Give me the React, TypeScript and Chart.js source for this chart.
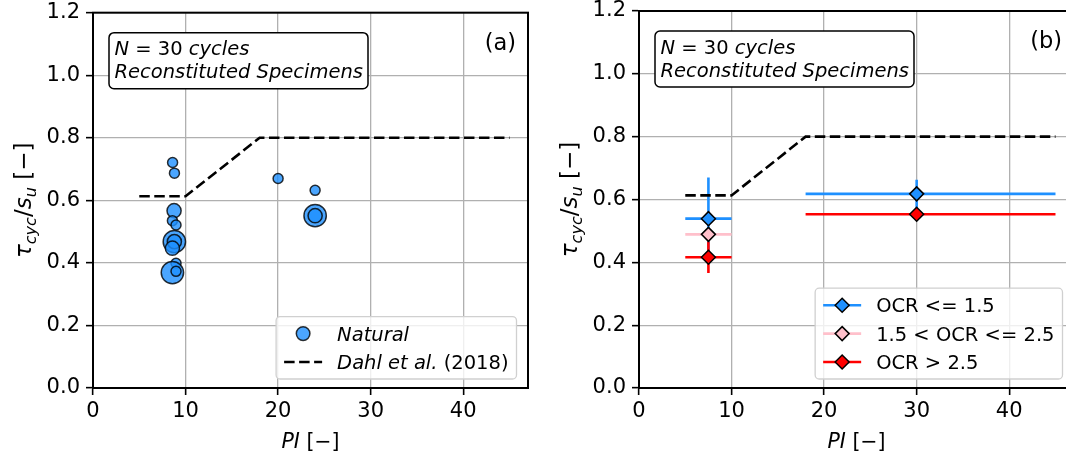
import React, { useEffect, useRef } from "react";
import { Chart, registerables } from "chart.js";

Chart.register(...registerables);

const FAMILY = "'DejaVu Sans', sans-serif";
const FS = 19.5; // legend / text box
const FS_TICK = 21;
const FS_XT = 20.5;
const FS_YT = 23;
const FS_PANEL = 22.5;

// ---------- Panel (a): natural specimens ----------
const naturalPI = [8.6, 8.8, 20.0, 24.0, 24.0, 24.0, 8.76, 8.58, 8.97, 8.79, 8.79, 8.58, 8.97, 8.58, 8.97];
const naturalRatio = [0.721, 0.687, 0.67, 0.632, 0.551, 0.551, 0.567, 0.535, 0.521, 0.468, 0.468, 0.447, 0.399, 0.369, 0.373];
const naturalTests = [1, 1, 1, 1, 5, 2, 2, 1, 1, 5, 2, 2, 1, 5, 1];

// Dahl et al. (2018) envelope
const dahlPI = [5, 10, 18, 45];
const dahlRatio = [0.613, 0.613, 0.8, 0.8];

// ---------- Panel (b): OCR groups ----------
const ocrLabels = ["OCR <= 1.5", "1.5 < OCR <= 2.5", "OCR > 2.5"];
const ocrPI = [[7.5, 30], [7.5], [7.5, 30]];
const ocrPImin = [[5, 18], [5], [5, 18]];
const ocrPImax = [[10, 45], [10], [10, 45]];
const ocrRatio = [[0.539, 0.618], [0.489], [0.416, 0.553]];
const ocrRatioErr = [[0.131, 0.045], [0.02], [0.05, 0.015]];

// ---------- Axes ----------
const xTicks = [0, 10, 20, 30, 40];
const yTicks = [0, 0.2, 0.4, 0.6, 0.8, 1.0, 1.2];
const xMin = 0;
const xMax = 47;
const yMin = 0;
const yMax = 1.2;

const infoLine1 = [{ t: "N", it: true }, { t: " = 30 " }, { t: "cycles", it: true }];
const infoLine2 = [{ t: "Reconstituted Specimens", it: true }];

const NAT_FILL = "rgba(30,144,255,0.8)";
const NAT_EDGE = "rgba(0,0,0,0.8)";
const OCR_COLORS = ["#1e90ff", "#ffc0cb", "#ff0000"];
const DASH = [10.5, 4.5];

type Piece = { t: string; it?: boolean; sub?: boolean };

function font(size: number, it?: boolean) {
  return `${it ? "italic " : ""}${size}px ${FAMILY}`;
}

function measurePieces(ctx: CanvasRenderingContext2D, pieces: Piece[], size: number) {
  let w = 0;
  for (const p of pieces) {
    ctx.font = font(p.sub ? size * 0.7 : size, p.it);
    w += ctx.measureText(p.t).width;
  }
  return w;
}

function drawPieces(ctx: CanvasRenderingContext2D, pieces: Piece[], x: number, y: number, size: number) {
  let cx = x;
  ctx.textAlign = "left";
  ctx.textBaseline = "alphabetic";
  for (const p of pieces) {
    const s = p.sub ? size * 0.7 : size;
    ctx.font = font(s, p.it);
    ctx.fillText(p.t, cx, p.sub ? y + size * 0.22 : y);
    cx += ctx.measureText(p.t).width;
  }
  return cx - x;
}

function roundRectPath(ctx: CanvasRenderingContext2D, x: number, y: number, w: number, h: number, r: number) {
  ctx.beginPath();
  ctx.moveTo(x + r, y);
  ctx.lineTo(x + w - r, y);
  ctx.arcTo(x + w, y, x + w, y + r, r);
  ctx.lineTo(x + w, y + h - r);
  ctx.arcTo(x + w, y + h, x + w - r, y + h, r);
  ctx.lineTo(x + r, y + h);
  ctx.arcTo(x, y + h, x, y + h - r, r);
  ctx.lineTo(x, y + r);
  ctx.arcTo(x, y, x + r, y, r);
  ctx.closePath();
}

function drawDiamond(ctx: CanvasRenderingContext2D, x: number, y: number, r: number, fill: string) {
  ctx.beginPath();
  ctx.moveTo(x - r, y);
  ctx.lineTo(x, y - r);
  ctx.lineTo(x + r, y);
  ctx.lineTo(x, y + r);
  ctx.closePath();
  ctx.fillStyle = fill;
  ctx.fill();
  ctx.lineWidth = 1.5;
  ctx.strokeStyle = "#000";
  ctx.stroke();
}

type LegendItem = { pieces: Piece[]; draw: (ctx: CanvasRenderingContext2D, x0: number, x1: number, y: number) => void };

function drawLegend(ctx: CanvasRenderingContext2D, ca: any, items: LegendItem[]) {
  const rowH = 28.4;
  let maxW = 0;
  for (const it of items) maxW = Math.max(maxW, measurePieces(ctx, it.pieces, FS));
  const w = 8 + 38 + 15 + maxW + 8;
  const h = 34 + (items.length - 1) * rowH;
  const right = ca.right - 11.5;
  const bottom = ca.bottom - 9;
  const left = right - w;
  const top = bottom - h;
  ctx.save();
  roundRectPath(ctx, left, top, w, h, 4);
  ctx.fillStyle = "rgba(255,255,255,0.8)";
  ctx.fill();
  ctx.strokeStyle = "#d0d0d0";
  ctx.lineWidth = 1.3;
  ctx.stroke();
  items.forEach((it, i) => {
    const cy = top + 17 + i * rowH;
    const hx0 = left + 8;
    const hx1 = hx0 + 38;
    it.draw(ctx, hx0, hx1, cy);
    ctx.fillStyle = "#000";
    drawPieces(ctx, it.pieces, hx1 + 15, cy + 7, FS);
  });
  ctx.restore();
}

function decorPlugin(panel: "a" | "b") {
  return {
    id: "decor_" + panel,
    beforeDatasetsDraw(chart: any) {
      if (panel !== "b") return;
      const { ctx, scales } = chart;
      const xs = scales.x;
      const ys = scales.y;
      ctx.save();
      ctx.lineWidth = 2.6;
      ctx.lineCap = "butt";
      ocrPI.forEach((series, i) => {
        ctx.strokeStyle = OCR_COLORS[i];
        series.forEach((_, j) => {
          const py = ys.getPixelForValue(ocrRatio[i][j]);
          const px = xs.getPixelForValue(ocrPI[i][j]);
          ctx.beginPath();
          ctx.moveTo(xs.getPixelForValue(ocrPImin[i][j]), py);
          ctx.lineTo(xs.getPixelForValue(ocrPImax[i][j]), py);
          ctx.moveTo(px, ys.getPixelForValue(ocrRatio[i][j] - ocrRatioErr[i][j]));
          ctx.lineTo(px, ys.getPixelForValue(ocrRatio[i][j] + ocrRatioErr[i][j]));
          ctx.stroke();
        });
      });
      ctx.restore();
    },
    afterDraw(chart: any) {
      const { ctx, chartArea: ca } = chart;
      ctx.save();
      // frame
      ctx.strokeStyle = "#000";
      ctx.lineWidth = 2;
      ctx.strokeRect(ca.left, ca.top, ca.right - ca.left, ca.bottom - ca.top);

      // info box
      const bx = ca.left + 16;
      const by = ca.top + 20;
      const bw = 259;
      const bh = 56;
      roundRectPath(ctx, bx, by, bw, bh, 5);
      ctx.fillStyle = "#fff";
      ctx.fill();
      ctx.lineWidth = 1.5;
      ctx.strokeStyle = "#000";
      ctx.stroke();
      ctx.fillStyle = "#000";
      drawPieces(ctx, infoLine1, bx + 5.5, by + 22.5, FS);
      drawPieces(ctx, infoLine2, bx + 5.5, by + 45.5, FS);

      // panel letter
      ctx.font = font(FS_PANEL);
      ctx.textAlign = "right";
      ctx.textBaseline = "alphabetic";
      ctx.fillText(panel === "a" ? "(a)" : "(b)", ca.right - 12, ca.top + 37);

      // x title
      const xt: Piece[] = [{ t: "PI", it: true }, { t: " [−]" }];
      const xw = measurePieces(ctx, xt, FS_XT);
      drawPieces(ctx, xt, (ca.left + ca.right) / 2 - xw / 2, 448, FS_XT);

      // y title
      const yt: Piece[] = [
        { t: "τ", it: true },
        { t: "cyc", it: true, sub: true },
        { t: "/" },
        { t: "s", it: true },
        { t: "u", it: true, sub: true },
        { t: " [−]" },
      ];
      const yw = measurePieces(ctx, yt, FS_YT);
      ctx.save();
      ctx.translate(ca.left - 62, (ca.top + ca.bottom) / 2);
      ctx.rotate(-Math.PI / 2);
      drawPieces(ctx, yt, -yw / 2, 0, FS_YT);
      ctx.restore();

      // legend
      if (panel === "a") {
        drawLegend(ctx, ca, [
          {
            pieces: [{ t: "Natural", it: true }],
            draw: (c, x0, x1, y) => {
              c.beginPath();
              c.arc((x0 + x1) / 2, y, 6.8, 0, Math.PI * 2);
              c.fillStyle = NAT_FILL;
              c.fill();
              c.lineWidth = 1.5;
              c.strokeStyle = NAT_EDGE;
              c.stroke();
            },
          },
          {
            pieces: [{ t: "Dahl et al.", it: true }, { t: " (2018)" }],
            draw: (c, x0, x1, y) => {
              c.save();
              c.setLineDash(DASH);
              c.lineWidth = 2.6;
              c.strokeStyle = "#000";
              c.beginPath();
              c.moveTo(x0, y);
              c.lineTo(x1, y);
              c.stroke();
              c.restore();
            },
          },
        ]);
      } else {
        drawLegend(
          ctx,
          ca,
          ocrLabels.map((lab, i) => ({
            pieces: [{ t: lab }],
            draw: (c: CanvasRenderingContext2D, x0: number, x1: number, y: number) => {
              c.lineWidth = 2.6;
              c.strokeStyle = OCR_COLORS[i];
              c.beginPath();
              c.moveTo(x0, y);
              c.lineTo(x1, y);
              c.stroke();
              drawDiamond(c, (x0 + x1) / 2, y, 7, OCR_COLORS[i]);
            },
          }))
        );
      }
      ctx.restore();
    },
  };
}

function baseOptions(yWidth: number, padRight: number) {
  const grid = {
    color: "#b0b0b0",
    lineWidth: 1.3,
    drawTicks: true,
    tickLength: 7,
    tickColor: "#000",
    tickWidth: 1.6,
  };
  return {
    animation: false,
    responsive: false,
    maintainAspectRatio: false,
    events: [],
    layout: { padding: { top: 11, right: padRight, left: 0, bottom: 0 } },
    plugins: { legend: { display: false }, tooltip: { enabled: false }, title: { display: false } },
    scales: {
      x: {
        type: "linear",
        min: xMin,
        max: xMax,
        afterBuildTicks: (s: any) => {
          s.ticks = xTicks.map((v) => ({ value: v }));
        },
        afterFit: (s: any) => {
          s.height = 71;
          s.paddingLeft = 0;
          s.paddingRight = 0;
        },
        grid,
        border: { display: true, color: "#000", width: 2 },
        ticks: {
          color: "#000",
          font: { family: FAMILY, size: FS_TICK },
          padding: 4,
          maxRotation: 0,
          autoSkip: false,
          callback: (v: any) => String(v),
        },
      },
      y: {
        type: "linear",
        min: yMin,
        max: yMax,
        afterBuildTicks: (s: any) => {
          s.ticks = yTicks.map((v) => ({ value: v }));
        },
        afterFit: (s: any) => {
          s.width = yWidth;
          s.paddingTop = 0;
          s.paddingBottom = 0;
        },
        grid,
        border: { display: true, color: "#000", width: 2 },
        ticks: {
          color: "#000",
          font: { family: FAMILY, size: FS_TICK },
          padding: 6,
          autoSkip: false,
          callback: (v: any) => Number(v).toFixed(1),
        },
      },
    },
  } as any;
}

function dahlDataset() {
  return {
    label: "Dahl et al. (2018)",
    data: dahlPI.map((x, i) => ({ x, y: dahlRatio[i] })),
    showLine: true,
    borderColor: "#000",
    borderWidth: 2.6,
    borderDash: DASH,
    pointRadius: 0,
    fill: false,
    order: 10,
  };
}

function configA() {
  return {
    type: "scatter",
    data: {
      datasets: [
        {
          label: "Natural",
          data: naturalPI.map((x, i) => ({ x, y: naturalRatio[i] })),
          backgroundColor: NAT_FILL,
          borderColor: NAT_EDGE,
          borderWidth: 1.5,
          pointRadius: (c: any) => 5 * Math.sqrt(naturalTests[c.dataIndex] ?? 1),
          order: 1,
        },
        dahlDataset(),
      ],
    },
    options: baseOptions(93, 17),
    plugins: [decorPlugin("a")],
  } as any;
}

function configB() {
  return {
    type: "scatter",
    data: {
      datasets: [
        dahlDataset(),
        ...ocrLabels.map((lab, i) => ({
          label: lab,
          data: ocrPI[i].map((x, j) => ({ x, y: ocrRatio[i][j] })),
          pointStyle: "rectRot",
          pointRadius: 7,
          backgroundColor: OCR_COLORS[i],
          borderColor: "#000",
          borderWidth: 1.5,
          order: 3 - i,
        })),
      ],
    },
    options: baseOptions(94, 16),
    plugins: [decorPlugin("b")],
  } as any;
}

export default function App() {
  const leftRef = useRef<HTMLCanvasElement>(null);
  const rightRef = useRef<HTMLCanvasElement>(null);
  useEffect(() => {
    const c1 = new Chart(leftRef.current as HTMLCanvasElement, configA());
    const c2 = new Chart(rightRef.current as HTMLCanvasElement, configB());
    return () => {
      c1.destroy();
      c2.destroy();
    };
  }, []);
  return (
    <div
      style={{
        position: "absolute",
        left: 0,
        top: 0,
        width: 1066,
        height: 459,
        overflow: "hidden",
        background: "#fff",
      }}
    >
      <canvas
        ref={leftRef}
        width={545}
        height={459}
        style={{ position: "absolute", left: 0, top: 0, width: 545, height: 459 }}
      />
      <canvas
        ref={rightRef}
        width={545}
        height={459}
        style={{ position: "absolute", left: 545, top: 0, width: 545, height: 459 }}
      />
    </div>
  );
}
